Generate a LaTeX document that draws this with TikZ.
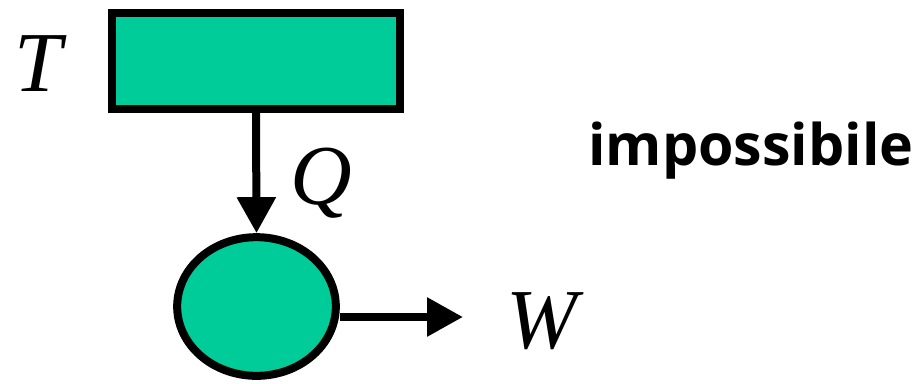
\documentclass[tikz,border=0pt]{standalone}
\usepackage{fontspec}
\setmainfont{Liberation Serif}
\newfontfamily\labelfont{Open Sans}
\usepackage{xcolor}
\usetikzlibrary{arrows.meta,shapes.geometric,positioning}
\definecolor{heatgreen}{HTML}{00CC99}

\begin{document}
\begin{tikzpicture}[x=0.75pt,y=-0.75pt,
    source/.style={draw,line width=6pt,fill=heatgreen,minimum width=216pt,minimum height=72pt,inner sep=0pt},
    engine/.style={draw,ellipse,line width=6pt,fill=heatgreen,minimum width=119pt,minimum height=104pt,inner sep=0pt},
    flow/.style={line width=6pt,-{Triangle[length=27pt,width=28pt]}},
    sym/.style={font=\fontsize{64pt}{64pt}\selectfont\itshape,inner sep=0pt}]
    \useasboundingbox (0,0) rectangle (913,383);
    % Reservoir and machine
    \node[source] (res) at (256,61) {};
    \node[engine] (eng) at (256.5,306.5) {};
    % Heat in
    \draw[flow] (res.south) -- (eng.north);
    % Work out
    \coordinate (wend) at (463,317);
    \draw[flow] (eng.east |- wend) -- (wend);
    % Labels
    \node[sym] (t) at (38,64) {T};
    \node[sym] (q) at (321,183) {Q};
    \node[sym] (w) at (542,321) {W};
    \node[font=\fontsize{43pt}{43pt}\selectfont\labelfont\bfseries,anchor=base,inner sep=0pt] (imp) at (751,165) {impossibile};
\end{tikzpicture}
\end{document}
